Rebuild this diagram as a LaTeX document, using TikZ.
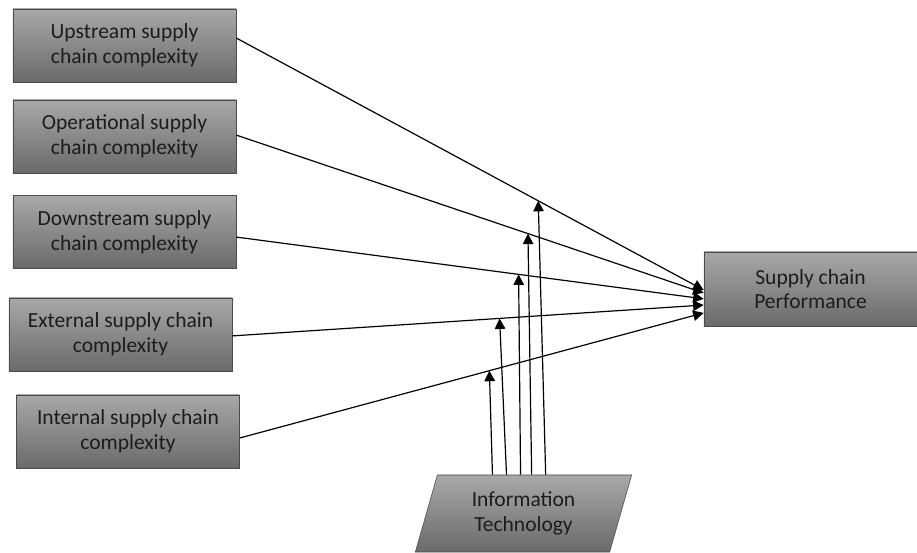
\documentclass[tikz,border=0pt]{standalone}
\usepackage{fontspec}
\setmainfont{Carlito}
\usetikzlibrary{shapes.geometric,arrows.meta,calc}
\definecolor{boxtop}{RGB}{168,168,168}
\definecolor{boxbot}{RGB}{106,106,106}
\definecolor{boxline}{RGB}{75,75,75}
\definecolor{boxtext}{RGB}{28,28,28}
\begin{document}
\begin{tikzpicture}[x=0.025cm,y=-0.025cm,
	varbox/.style={draw=boxline,top color=boxtop,bottom color=boxbot,text=boxtext,align=center,inner sep=0pt,
		minimum width=5.575cm,minimum height=1.825cm,font=\fontsize{15.3}{17.5}\selectfont},
	itbox/.style={varbox,trapezium,trapezium left angle=73,trapezium right angle=107,trapezium stretches=true,
		minimum width=5.425cm,minimum height=1.925cm},
	link/.style={line width=0.85pt,-{Triangle[width=7.5pt,length=7.5pt]}}]
				\useasboundingbox (0,0) rectangle (917,553);
				\node[varbox] (up) at (124.5,45.5) {Upstream supply\\chain complexity};
				\node[varbox] (op) at (124.5,136.5) {Operational supply\\chain complexity};
				\node[varbox] (down) at (124.5,232) {Downstream supply\\chain complexity};
				\node[varbox] (ext) at (120.5,334.5) {External supply chain\\complexity};
				\node[varbox] (int) at (128,431.5) {Internal supply chain\\complexity};
				\node[varbox,minimum width=5.325cm,minimum height=1.85cm] (perf) at (810.5,289) {Supply chain\\Performance};
				\node[itbox] (it) at (523.5,513.5) {Information\\Technology};
				\coordinate (s1) at ([yshift=5.3pt]up.east);
				\coordinate (s2) at ([yshift=1pt]op.east);
				\coordinate (s3) at ([yshift=-3.6pt]down.east);
				\coordinate (s4) at ([yshift=-1pt]ext.east);
				\coordinate (s5) at ([yshift=-4.6pt]int.east);
				\coordinate (e1) at ([yshift=-0.7pt]perf.west);
				\coordinate (e2) at ([yshift=-2.8pt]perf.west);
				\coordinate (e3) at ([yshift=-7pt]perf.west);
				\coordinate (e4) at ([yshift=-11.4pt]perf.west);
				\coordinate (e5) at ([yshift=-17pt]perf.west);
				\draw[link] (s1) -- (e1);
				\draw[link] (s2) -- (e2);
				\draw[link] (s3) -- (e3);
				\draw[link] (s4) -- (e4);
				\draw[link] (s5) -- (e5);
				\draw[link] ($(it.top left corner)!0.284!(it.top right corner)$) -- ($(s5)!0.538!(e5)$);
				\draw[link] ($(it.top left corner)!0.356!(it.top right corner)$) -- ($(s4)!0.567!(e4)$);
				\draw[link] ($(it.top left corner)!0.428!(it.top right corner)$) -- ($(s3)!0.604!(e3)$);
				\draw[link] ($(it.top left corner)!0.485!(it.top right corner)$) -- ($(s2)!0.624!(e2)$);
				\draw[link] ($(it.top left corner)!0.557!(it.top right corner)$) -- ($(s1)!0.646!(e1)$);
			\end{tikzpicture}
\end{document}
